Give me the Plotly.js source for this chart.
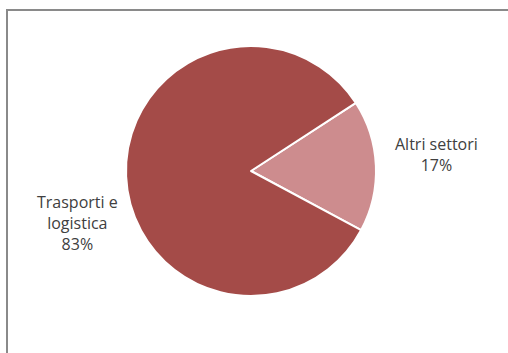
<!DOCTYPE html>
<html>
<head>
<meta charset="utf-8">
<script src="https://cdn.plot.ly/plotly-3.0.1.min.js"></script>
<style>html,body{margin:0;padding:0;background:#fff;}#chart{width:508px;height:353px;}</style>
</head>
<body>
<div id="chart"></div>
<script>
// Data
const sectorLabels = ["Altri settori", "Trasporti e logistica"];
const labelLines = ["Altri settori", "Trasporti e<br>logistica"];
const sharePct = [17, 83];
const sliceColors = ["#CD8C8E", "#A44B48"];

const labelPos = [
  {x: 0.860, y: 0.563},
  {x: 0.152, y: 0.367}
];

const data = [{
  type: "pie",
  labels: sectorLabels,
  values: sharePct,
  sort: false,
  direction: "clockwise",
  rotation: 57,
  textinfo: "none",
  hoverinfo: "label+percent",
  marker: {colors: sliceColors, line: {color: "#ffffff", width: 2}},
  domain: {x: [126/508, 376/508], y: [57/353, 307/353]},
  showlegend: false
}];

const annotations = sectorLabels.map((l, i) => ({
  xref: "paper", yref: "paper",
  x: labelPos[i].x, y: labelPos[i].y,
  xanchor: "center", yanchor: "middle",
  text: labelLines[i] + "<br>" + sharePct[i] + "%",
  showarrow: false,
  align: "center",
  font: {family: "Open Sans, sans-serif", size: 16, color: "#404040"}
}));

const layout = {
  width: 508, height: 353,
  margin: {l: 0, r: 0, t: 0, b: 0},
  paper_bgcolor: "#ffffff",
  annotations: annotations,
  shapes: [{
    type: "rect", xref: "paper", yref: "paper",
    x0: 7/508, x1: 1.05, y0: -0.05, y1: (353-10)/353,
    line: {color: "#8a8a8a", width: 2}
  }]
};

Plotly.newPlot("chart", data, layout, {displayModeBar: false, staticPlot: true});
</script>
</body>
</html>
